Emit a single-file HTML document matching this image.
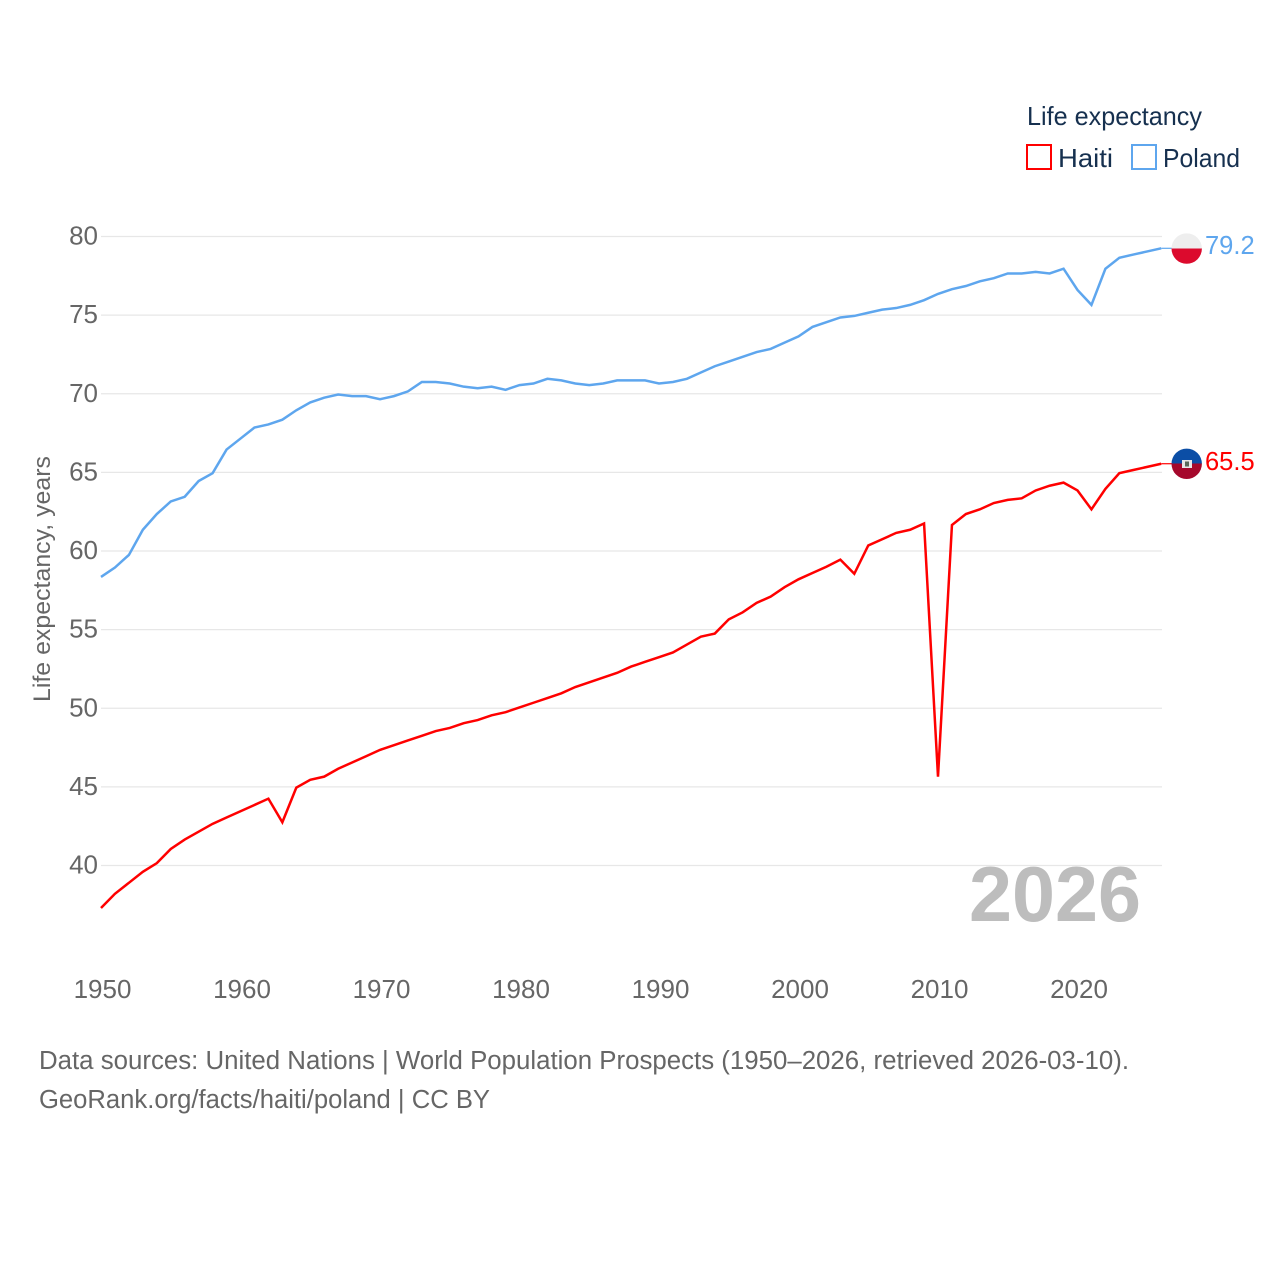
<!DOCTYPE html>
<html lang="en">
<head>
<meta charset="utf-8">
<title>Life expectancy: Haiti and Poland</title>
<style>
html,body{margin:0;padding:0;background:#fff;}
svg{display:block;font-family:"Liberation Sans",sans-serif;}
</style>
</head>
<body>
<svg id="chart" xmlns="http://www.w3.org/2000/svg" width="1280" height="1280" viewBox="0 0 1280 1280">
  <defs>
    <clipPath id="flag-clip-poland"><circle cx="1186.7" cy="248.6" r="15.2"/></clipPath>
    <clipPath id="flag-clip-haiti"><circle cx="1186.7" cy="463.8" r="15.2"/></clipPath>
  </defs>
  <rect width="1280" height="1280" fill="#fff"/>
  <g id="grid"></g>
  <g id="yticks"></g>
  <g id="xticks"></g>
  <text transform="translate(50 579) rotate(-90)" text-anchor="middle" font-size="24.5" fill="#666" textLength="246" lengthAdjust="spacingAndGlyphs">Life expectancy, years</text>
  <text x="969" y="921" font-size="78" font-weight="700" fill="#bdbdbd" textLength="172" lengthAdjust="spacingAndGlyphs">2026</text>
  <g id="series"></g>

  <g clip-path="url(#flag-clip-poland)">
    <rect x="1171" y="233" width="32" height="15.5" fill="#eeeeee"/>
    <rect x="1171" y="248.5" width="32" height="16" fill="#dc0a2d"/>
  </g>
  <g clip-path="url(#flag-clip-haiti)">
    <rect x="1171" y="448" width="32" height="15.5" fill="#0b4ea6"/>
    <rect x="1171" y="463.5" width="32" height="16" fill="#a5082c"/>
    <rect x="1182" y="460" width="10" height="8" fill="#e8e8e8"/>
    <rect x="1185" y="461.5" width="4" height="5" fill="#5a6a5a"/>
  </g>
  <text x="1205" y="254" font-size="25.5" fill="#5ea6ee">79.2</text>
  <text x="1205" y="470" font-size="25.5" fill="#ff0000">65.5</text>

  <text x="1027" y="125" font-size="26" fill="#16304f" textLength="175" lengthAdjust="spacingAndGlyphs">Life expectancy</text>
  <rect x="1027" y="145" width="24" height="24" fill="none" stroke="#ff0000" stroke-width="2"/>
  <text x="1058" y="167" font-size="26" fill="#16304f" textLength="55" lengthAdjust="spacingAndGlyphs">Haiti</text>
  <rect x="1132" y="145" width="24" height="24" fill="none" stroke="#5ea6ee" stroke-width="2"/>
  <text x="1163" y="167" font-size="26" fill="#16304f" textLength="77" lengthAdjust="spacingAndGlyphs">Poland</text>

  <text x="39" y="1069" font-size="25.5" fill="#666" textLength="1090" lengthAdjust="spacingAndGlyphs">Data sources: United Nations | World Population Prospects (1950–2026, retrieved 2026-03-10).</text>
  <text x="39" y="1108" font-size="25.5" fill="#666" textLength="451" lengthAdjust="spacingAndGlyphs">GeoRank.org/facts/haiti/poland | CC BY</text>
</svg>
<script>
var startYear = 1950;
var yTickValues = [40, 45, 50, 55, 60, 65, 70, 75, 80];
var xTickValues = [1950, 1960, 1970, 1980, 1990, 2000, 2010, 2020];
var haitiValues = [37.3,38.2,38.9,39.6,40.15,41.05,41.65,42.15,42.65,43.05,43.45,43.85,44.25,42.75,44.95,45.45,45.65,46.15,46.55,46.95,47.35,47.65,47.95,48.25,48.55,48.75,49.05,49.25,49.55,49.75,50.05,50.35,50.65,50.95,51.35,51.65,51.95,52.25,52.65,52.95,53.25,53.55,54.05,54.55,54.75,55.65,56.1,56.7,57.1,57.7,58.2,58.6,59.0,59.45,58.55,60.35,60.75,61.15,61.35,61.75,45.65,61.65,62.35,62.65,63.05,63.25,63.35,63.85,64.15,64.35,63.85,62.65,63.95,64.95,65.15,65.35,65.55];
var polandValues = [58.35,58.95,59.75,61.35,62.35,63.15,63.45,64.45,64.95,66.45,67.15,67.85,68.05,68.35,68.95,69.45,69.75,69.95,69.85,69.85,69.65,69.85,70.15,70.75,70.75,70.65,70.45,70.35,70.45,70.25,70.55,70.65,70.95,70.85,70.65,70.55,70.65,70.85,70.85,70.85,70.65,70.75,70.95,71.35,71.75,72.05,72.35,72.65,72.85,73.25,73.65,74.25,74.55,74.85,74.95,75.15,75.35,75.45,75.65,75.95,76.35,76.65,76.85,77.15,77.35,77.65,77.65,77.75,77.65,77.95,76.6,75.65,77.95,78.65,78.85,79.05,79.25];

var NS = 'http://www.w3.org/2000/svg';
function xScale(year) { return 101 + (year - 1950) * 13.95; }
function yScale(v) { return 236.5 + (80 - v) * 15.725; }

var grid = document.getElementById('grid');
var yticks = document.getElementById('yticks');
var xticks = document.getElementById('xticks');
var series = document.getElementById('series');

yTickValues.forEach(function (v) {
  var line = document.createElementNS(NS, 'line');
  
  
  line.setAttribute('x1', xScale(1950));
  line.setAttribute('x2', xScale(2026) + 0.8);
  line.setAttribute('y1', yScale(v));
  line.setAttribute('y2', yScale(v));
  line.setAttribute('stroke', '#e7e7e7');
  line.setAttribute('stroke-width', '1.3');
  grid.appendChild(line);
  var t = document.createElementNS(NS, 'text');
  
  
  t.setAttribute('x', 98);
  t.setAttribute('y', yScale(v) + 8);
  t.setAttribute('text-anchor', 'end');
  t.setAttribute('font-size', '26');
  t.setAttribute('fill', '#666');
  t.textContent = v;
  yticks.appendChild(t);
});

xTickValues.forEach(function (year) {
  var t = document.createElementNS(NS, 'text');
  
  
  t.setAttribute('x', xScale(year) + 1.5);
  t.setAttribute('y', 998);
  t.setAttribute('text-anchor', 'middle');
  t.setAttribute('font-size', '26');
  t.setAttribute('fill', '#666');
  t.textContent = year;
  xticks.appendChild(t);
});

function drawSeries(values, color) {
  var pts = values.map(function (v, i) {
    return xScale(startYear + i).toFixed(2) + ',' + yScale(v).toFixed(2);
  });
  var line = document.createElementNS(NS, 'polyline');
  
  
  line.setAttribute('points', pts.join(' '));
  line.setAttribute('fill', 'none');
  line.setAttribute('stroke', color);
  line.setAttribute('stroke-width', '2.5');
  line.setAttribute('stroke-linejoin', 'miter');
  series.appendChild(line);
  var last = values[values.length - 1];
  var lead = document.createElementNS(NS, 'line');
  
  
  lead.setAttribute('x1', xScale(startYear + values.length - 1));
  lead.setAttribute('x2', 1172);
  lead.setAttribute('y1', yScale(last));
  lead.setAttribute('y2', yScale(last));
  lead.setAttribute('stroke', color);
  lead.setAttribute('stroke-width', '1.2');
  series.appendChild(lead);
}
drawSeries(haitiValues, '#ff0000');
drawSeries(polandValues, '#5ea6ee');
</script>
</body>
</html>
